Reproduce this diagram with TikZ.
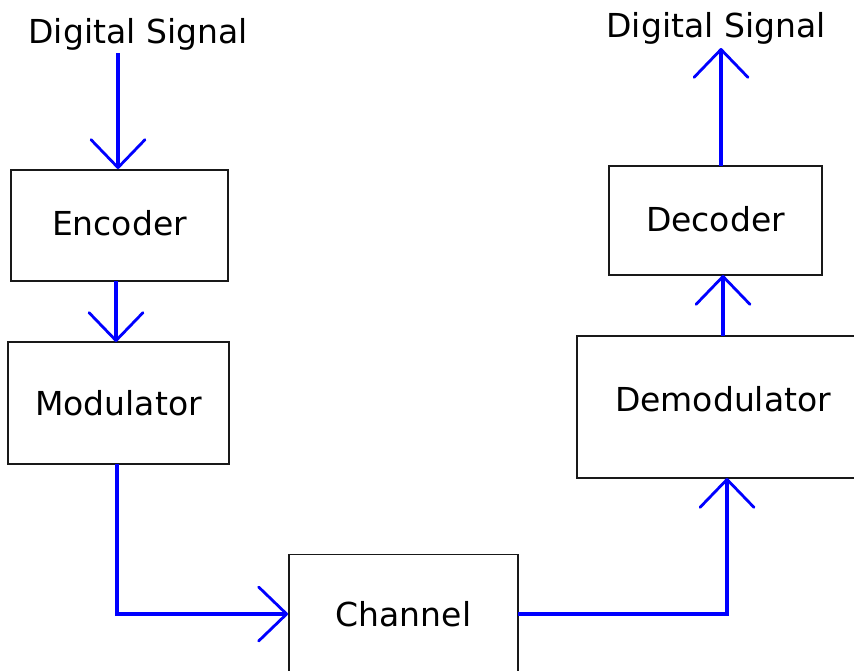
\documentclass[tikz,border=0pt]{standalone}
\usepackage{fontspec}
\setmainfont{DejaVu Sans}
\usetikzlibrary{arrows.meta}
\begin{document}
\begin{tikzpicture}[x=1pt,y=-1pt,
  every node/.style={font=\fontsize{33}{38}\selectfont},
  block/.style={draw=black!90, line width=1.9pt, rectangle, inner sep=0pt},
  sig/.style={draw=blue, line width=3.8pt, line join=miter,
    -{Straight Barb[length=28pt,width=54pt,line width=2.8pt,round]}}]
\useasboundingbox (0,0) rectangle (854,670);
\clip (0,0) rectangle (854,670);

% processing blocks
\node[block, minimum width=217pt, minimum height=111pt, text depth=6pt] (enc) at (119.5,225.5) {Encoder};
\node[block, minimum width=221pt, minimum height=122pt] (mod) at (118.5,403) {Modulator};
\node[block, minimum width=229pt, minimum height=119pt] (chan) at (403.5,614) {Channel};
\node[block, minimum width=292pt, minimum height=142pt, text depth=16pt] (demod) at (723,407) {Demodulator};
\node[block, minimum width=213pt, minimum height=109pt, text depth=4pt] (dec) at (715.5,220.5) {Decoder};

% input and output labels
\node[anchor=base] (sigin) at (138,43) {Digital Signal};
\node[anchor=base] (sigout) at (716,37) {Digital Signal};

% connectors
\coordinate (inTop) at (118,53);
\coordinate (outTop) at (721,48);
\coordinate (modOut) at (117,464);
\coordinate (chanOut) at (518,614);
\draw[sig] (inTop) -- (inTop |- enc.north);
\draw[sig] (116,281) -- (116,342);
\draw[sig] (modOut) |- (chan.west);
\draw[sig] (chanOut) -| (727,478);
\draw[sig] (723,336) -- (723,275);
\draw[sig] (721,166) -- (outTop);
\end{tikzpicture}
\end{document}
